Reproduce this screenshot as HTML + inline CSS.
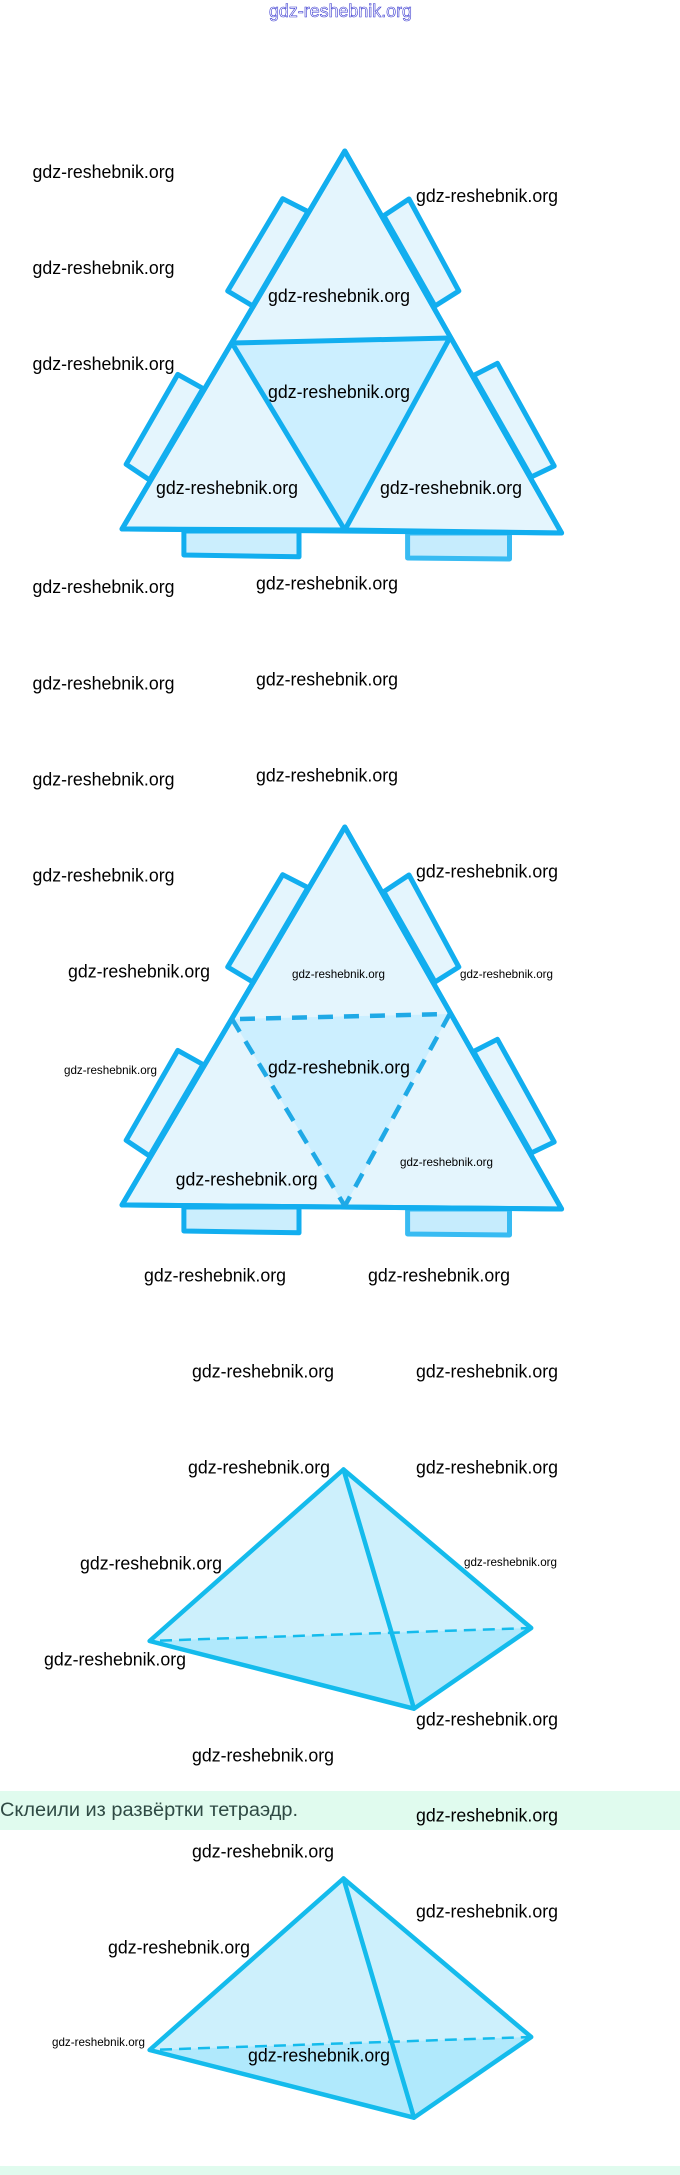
<!DOCTYPE html>
<html><head><meta charset="utf-8"><style>
html,body{margin:0;padding:0;background:#fff;width:680px;height:2175px;overflow:hidden}
svg{display:block}
text{font-family:"Liberation Sans",sans-serif}
.t{font-size:18px;fill:#000}
.s{font-size:12px;fill:#000}
.n{stroke:#12aeef;stroke-width:5;stroke-linejoin:round;stroke-linecap:round}
.k{stroke:#14bbec;stroke-width:4.5;stroke-linejoin:round;stroke-linecap:round;fill:none}
</style></head><body>
<svg width="680" height="2175" viewBox="0 0 680 2175" xmlns="http://www.w3.org/2000/svg">
<defs>
<g id="tabs">
<polygon class="n" fill="#e4f5fd" points="308,211.6 282.7,198.7 227.7,291 252.8,306"/>
<polygon class="n" fill="#e4f5fd" points="383.8,215.7 409,199 458.8,291 435,306"/>
<polygon class="n" fill="#e4f5fd" points="203,388.5 177.8,374.4 126.2,464.3 149.6,480"/>
<polygon class="n" fill="#e4f5fd" points="473.6,375.5 497.4,363.3 554.2,466 531.2,477"/>
<polygon class="n" fill="#cbeefd" points="183.9,531 183.9,555 299,556.8 299,531"/>
<polygon fill="#c6ecfd" stroke="#38bbf2" stroke-width="5" stroke-linejoin="round" points="407.6,533 407.6,558 509.5,559 509.5,533"/>
</g>
</defs>

<!-- Net 1 -->
<use href="#tabs"/>
<polygon class="n" fill="#e4f5fd" points="344.8,151 122,529 344.8,530 561.6,533"/>
<polygon fill="#ccefff" points="232,343 449.7,338 344.8,530"/>
<polygon class="n" fill="none" points="344.8,151 122,529 561.6,533"/>
<polygon class="n" fill="none" points="232,343 449.7,338 344.8,530"/>

<!-- Net 2 -->
<g transform="translate(0,676)">
<use href="#tabs"/>
<polygon class="n" fill="#e4f5fd" points="344.8,151 122,529 561.6,533"/>
<polygon fill="#ccefff" points="232,343 449.7,338 344.8,530"/>
<polygon class="n" fill="none" points="344.8,151 122,529 561.6,533"/>
<g stroke="#1fa9e6" stroke-width="4.5" fill="none">
<line x1="240" y1="343" x2="449" y2="338" stroke-dasharray="15 11"/>
<line x1="232" y1="343" x2="344.8" y2="530" stroke-dasharray="15 11"/>
<line x1="449.7" y1="338" x2="344.8" y2="530" stroke-dasharray="15 11"/>
</g>
</g>

<!-- Banners -->
<rect x="0" y="1791" width="680" height="39" fill="#e0fbee"/>
<rect x="0" y="2166" width="680" height="9" fill="#e0fbee"/>

<!-- Tetrahedron 1 -->
<g id="tet">
<polygon fill="#cdf0fc" points="343.5,1469.5 149.6,1641 414,1708.7 531.2,1628"/>
<polygon fill="#b0e9fc" points="149.6,1641 531.2,1628 414,1708.7"/>
<line x1="160" y1="1640.6" x2="531" y2="1628" stroke="#14bbec" stroke-width="2.5" stroke-dasharray="12 7"/>
<polygon class="k" points="343.5,1469.5 149.6,1641 414,1708.7 531.2,1628"/>
<line class="k" x1="343.5" y1="1469.5" x2="414" y2="1708.7"/>
</g>
<use href="#tet" y="409"/>

<!-- Header -->
<text x="269" y="17" font-size="18" textLength="143" lengthAdjust="spacingAndGlyphs" fill="#fff" stroke="#3a3ad0" stroke-width="0.6">gdz-reshebnik.org</text>

<!-- Banner caption -->
<text x="0" y="1816" font-size="19" textLength="298" lengthAdjust="spacingAndGlyphs" fill="#2f4a44" style='font-family:"Liberation Sans","Noto Sans CJK SC",sans-serif'>Склеили из развёртки тетраэдр.</text>

<!-- Labels -->
<g>
<text class="t" x="32.5" y="178" textLength="142" lengthAdjust="spacingAndGlyphs">gdz-reshebnik.org</text>
<text class="t" x="416" y="202" textLength="142" lengthAdjust="spacingAndGlyphs">gdz-reshebnik.org</text>
<text class="t" x="32.5" y="274" textLength="142" lengthAdjust="spacingAndGlyphs">gdz-reshebnik.org</text>
<text class="t" x="268" y="302" textLength="142" lengthAdjust="spacingAndGlyphs">gdz-reshebnik.org</text>
<text class="t" x="32.5" y="370" textLength="142" lengthAdjust="spacingAndGlyphs">gdz-reshebnik.org</text>
<text class="t" x="268" y="398" textLength="142" lengthAdjust="spacingAndGlyphs">gdz-reshebnik.org</text>
<text class="t" x="156" y="494" textLength="142" lengthAdjust="spacingAndGlyphs">gdz-reshebnik.org</text>
<text class="t" x="380" y="494" textLength="142" lengthAdjust="spacingAndGlyphs">gdz-reshebnik.org</text>
<text class="t" x="32.5" y="593" textLength="142" lengthAdjust="spacingAndGlyphs">gdz-reshebnik.org</text>
<text class="t" x="256" y="589.5" textLength="142" lengthAdjust="spacingAndGlyphs">gdz-reshebnik.org</text>
<text class="t" x="32.5" y="689.5" textLength="142" lengthAdjust="spacingAndGlyphs">gdz-reshebnik.org</text>
<text class="t" x="256" y="685.5" textLength="142" lengthAdjust="spacingAndGlyphs">gdz-reshebnik.org</text>
<text class="t" x="32.5" y="785.5" textLength="142" lengthAdjust="spacingAndGlyphs">gdz-reshebnik.org</text>
<text class="t" x="256" y="781.5" textLength="142" lengthAdjust="spacingAndGlyphs">gdz-reshebnik.org</text>
<text class="t" x="32.5" y="881.5" textLength="142" lengthAdjust="spacingAndGlyphs">gdz-reshebnik.org</text>
<text class="t" x="416" y="877.5" textLength="142" lengthAdjust="spacingAndGlyphs">gdz-reshebnik.org</text>
<text class="t" x="68" y="977.5" textLength="142" lengthAdjust="spacingAndGlyphs">gdz-reshebnik.org</text>
<text class="t" x="268" y="1073.5" textLength="142" lengthAdjust="spacingAndGlyphs">gdz-reshebnik.org</text>
<text class="t" x="175.6" y="1185.5" textLength="142" lengthAdjust="spacingAndGlyphs">gdz-reshebnik.org</text>
<text class="t" x="144" y="1281.5" textLength="142" lengthAdjust="spacingAndGlyphs">gdz-reshebnik.org</text>
<text class="t" x="368" y="1281.5" textLength="142" lengthAdjust="spacingAndGlyphs">gdz-reshebnik.org</text>
<text class="t" x="192" y="1377.5" textLength="142" lengthAdjust="spacingAndGlyphs">gdz-reshebnik.org</text>
<text class="t" x="416" y="1377.5" textLength="142" lengthAdjust="spacingAndGlyphs">gdz-reshebnik.org</text>
<text class="t" x="188" y="1473.5" textLength="142" lengthAdjust="spacingAndGlyphs">gdz-reshebnik.org</text>
<text class="t" x="416" y="1473.5" textLength="142" lengthAdjust="spacingAndGlyphs">gdz-reshebnik.org</text>
<text class="t" x="80" y="1569.5" textLength="142" lengthAdjust="spacingAndGlyphs">gdz-reshebnik.org</text>
<text class="t" x="44" y="1665.5" textLength="142" lengthAdjust="spacingAndGlyphs">gdz-reshebnik.org</text>
<text class="t" x="416" y="1725.5" textLength="142" lengthAdjust="spacingAndGlyphs">gdz-reshebnik.org</text>
<text class="t" x="192" y="1761.5" textLength="142" lengthAdjust="spacingAndGlyphs">gdz-reshebnik.org</text>
<text class="t" x="416" y="1821.5" textLength="142" lengthAdjust="spacingAndGlyphs">gdz-reshebnik.org</text>
<text class="t" x="192" y="1857.5" textLength="142" lengthAdjust="spacingAndGlyphs">gdz-reshebnik.org</text>
<text class="t" x="416" y="1917.5" textLength="142" lengthAdjust="spacingAndGlyphs">gdz-reshebnik.org</text>
<text class="t" x="108" y="1953.5" textLength="142" lengthAdjust="spacingAndGlyphs">gdz-reshebnik.org</text>
<text class="t" x="248" y="2061.5" textLength="142" lengthAdjust="spacingAndGlyphs">gdz-reshebnik.org</text>
<text class="s" x="292" y="978" textLength="93" lengthAdjust="spacingAndGlyphs">gdz-reshebnik.org</text>
<text class="s" x="460" y="978" textLength="93" lengthAdjust="spacingAndGlyphs">gdz-reshebnik.org</text>
<text class="s" x="64" y="1074" textLength="93" lengthAdjust="spacingAndGlyphs">gdz-reshebnik.org</text>
<text class="s" x="400" y="1166" textLength="93" lengthAdjust="spacingAndGlyphs">gdz-reshebnik.org</text>
<text class="s" x="464" y="1566" textLength="93" lengthAdjust="spacingAndGlyphs">gdz-reshebnik.org</text>
<text class="s" x="52" y="2046" textLength="93" lengthAdjust="spacingAndGlyphs">gdz-reshebnik.org</text>
</g>
</svg>
</body></html>
